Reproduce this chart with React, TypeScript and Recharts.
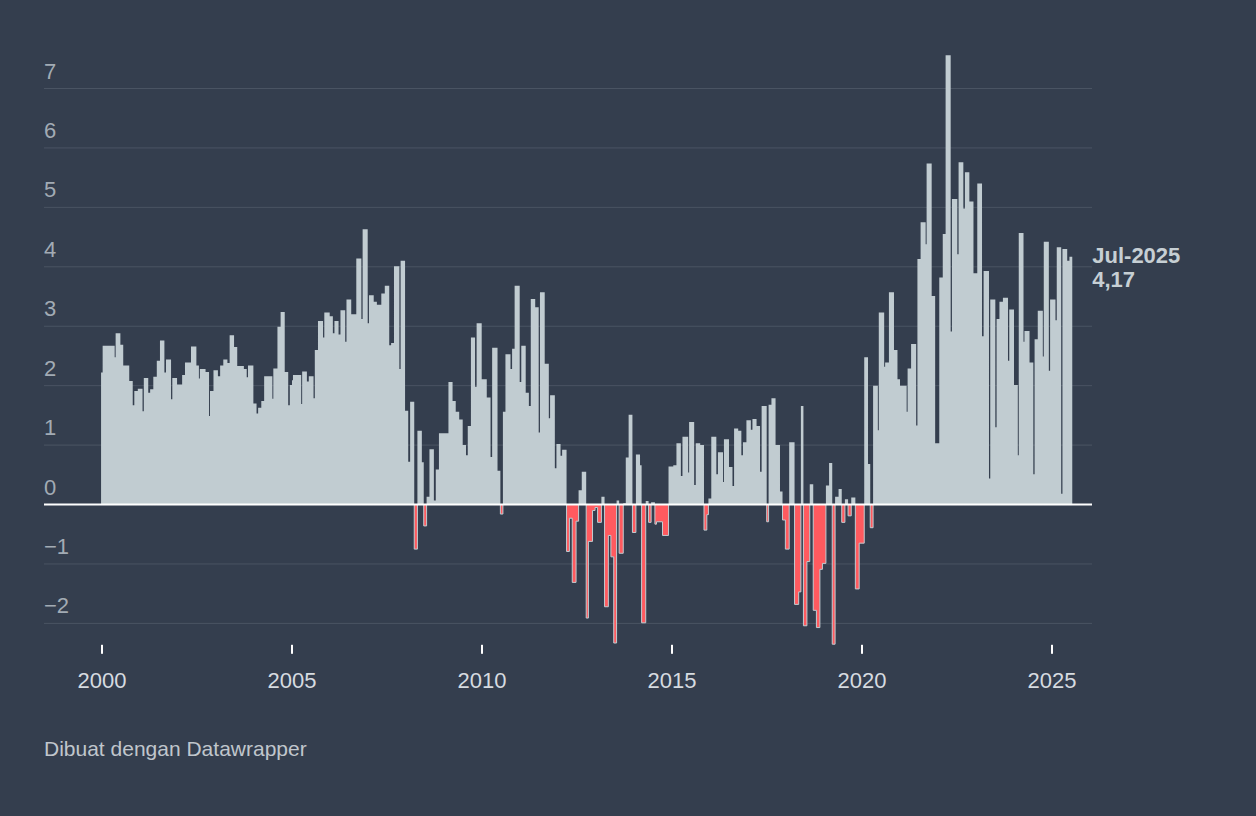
import React from "react";
import {
  AreaChart,
  Area,
  XAxis,
  YAxis,
  CartesianGrid,
  ReferenceLine,
  ReferenceDot,
} from "recharts";

// Step series: [months since Jan 2000, value]. Each value holds until the next step.
const steps2000 = [
  [-0.3, 2.22], [0.2, 2.67], [4.0, 2.48], [4.3, 2.88], [5.8, 2.69], [6.7, 2.34], [8.6, 2.08],
  [9.7, 1.67], [10.2, 1.91], [11.3, 1.95], [12.8, 1.57], [13.2, 2.13], [14.6, 1.88], [15.2, 1.94],
  [16.2, 2.15], [17.3, 2.42], [18.3, 2.76], [19.7, 2.22], [20.2, 2.44], [21.8, 1.77], [22.2, 2.13],
  [23.7, 2.02], [25.3, 2.18], [26.2, 2.39], [28.1, 2.66], [29.8, 2.34],
];
const steps2002 = [
  [30.6, 2.12], [30.9, 2.28], [32.7, 2.23], [33.8, 1.49], [34.1, 1.91], [35.2, 2.26], [36.6, 2.16],
  [37.3, 2.34], [38.3, 2.44], [39.6, 2.38], [40.3, 2.85], [41.7, 2.65], [42.7, 2.33], [44.8, 2.28],
  [45.7, 2.14], [46.1, 2.34], [47.8, 1.7], [48.8, 1.53], [49.3, 1.63], [50.3, 1.74], [51.2, 2.16],
  [53.8, 1.78], [54.1, 2.29], [55.4, 2.99], [56.4, 3.24], [57.7, 2.23], [58.8, 1.67], [59.3, 2.01],
];
const steps2005 = [
  [60.0, 2.09], [60.3, 2.18], [62.9, 1.69], [63.2, 2.24], [64.7, 2.07], [65.3, 2.16], [66.8, 1.79],
  [67.2, 2.6], [68.2, 3.09], [69.8, 2.81], [70.2, 3.23], [71.9, 3.17], [72.9, 2.88], [73.4, 3.09],
  [74.7, 2.86], [75.3, 3.27], [76.8, 2.74], [77.2, 3.45], [78.7, 3.2], [80.3, 4.14], [81.9, 3.12],
  [82.3, 4.63], [83.9, 3.05], [84.3, 3.52], [85.8, 3.41], [86.8, 3.36], [88.2, 3.55], [89.3, 3.68],
  [90.7, 2.68], [91.3, 2.72],
];
const steps2007 = [
  [92.2, 4.01], [93.9, 2.28], [94.3, 4.1], [95.7, 1.58], [96.7, 0.72], [97.3, 1.73], [98.6, -0.75],
  [99.6, 1.24], [101.0, 0.71], [101.6, -0.36], [102.5, 0.13], [103.4, 0.93], [104.8, 0.07],
  [105.4, 0.59], [106.4, 1.2], [109.4, 2.06], [110.7, 1.74], [111.7, 1.56], [112.8, 1.43],
  [113.9, 1.0], [114.95, 0.83], [115.5, 1.32], [116.5, 2.81], [117.8, 1.98], [118.3, 3.05],
  [119.9, 2.11], [121.5, 1.8],
];
const steps2010 = [
  [122.7, 0.8], [123.2, 2.64], [124.9, 0.57], [125.8, -0.16], [126.6, 1.56], [127.4, 2.53],
  [129.0, 2.28], [129.5, 2.62], [130.3, 3.68], [131.9, 2.06], [132.4, 2.67], [133.8, 1.88],
  [134.8, 1.66], [135.4, 3.46], [136.8, 3.32], [137.9, 1.21], [138.3, 3.57], [139.8, 2.37],
  [141.1, 1.45], [141.5, 1.84], [143.0, 0.61], [143.5, 1.02], [144.8, 0.82], [145.3, 0.92],
  [146.7, -0.79], [147.6, -0.23], [148.5, -1.31], [149.7, -0.28], [150.5, 0.24], [151.5, 0.55],
  [152.9, -1.91],
];
const steps2012 = [
  [153.6, -0.62], [154.9, -0.1], [155.7, -0.05], [156.5, -0.3], [157.7, 0.13], [158.7, -1.72],
  [159.9, -0.52], [160.7, -0.88], [161.6, -2.33], [162.5, 0.07], [163.3, -0.82], [164.6, 0.02],
  [165.4, 0.79], [166.3, 1.51], [167.5, -0.47], [168.6, 0.84], [169.9, 0.66], [170.4, -1.99],
  [171.7, 0.06], [172.6, -0.3], [173.4, 0.04], [174.6, -0.33], [175.1, -0.29], [177.0, -0.52],
  [178.9, 0.64], [180.4, 0.66], [181.4, 1.03], [182.8, 0.48], [183.3, 1.14],
];
const steps2015 = [
  [185.1, 0.54], [185.4, 1.39], [187.0, 0.33], [187.5, 1.03], [188.9, 1.0], [190.1, -0.43],
  [191.0, -0.17], [191.5, 0.1], [192.4, 1.14], [194.0, 0.51], [194.5, 0.88], [196.1, 0.38],
  [196.4, 1.1], [198.0, 0.63], [199.1, 0.31], [199.6, 1.28], [200.9, 1.24], [201.9, 0.83],
  [202.4, 1.05], [203.5, 1.42], [204.9, 1.26], [205.4, 1.44], [206.7, 1.32], [207.8, 0.55],
  [208.3, 1.66], [209.9, -0.29], [210.5, 1.68], [211.4, 1.79], [212.7, 1.0], [214.1, 0.22],
  [214.9, -0.26],
];
const steps2018 = [
  [215.8, -0.75], [217.0, 1.05], [218.7, -1.68], [220.0, -1.47], [220.7, 1.66], [221.5, -2.04],
  [222.6, -0.96], [223.5, 0.34], [224.6, -1.78], [225.6, -2.07], [226.7, -1.09], [227.5, -0.99],
  [228.6, 0.32], [229.6, 0.7], [230.6, -2.35], [231.5, 0.13], [232.6, 0.26], [233.6, -0.3],
  [234.6, 0.09], [235.6, -0.19], [236.6, 0.12], [237.9, -1.42], [239.1, -0.65], [240.7, 2.48],
  [241.9, 0.68], [242.6, -0.39], [243.5, 2.0], [245.0, 1.25], [245.3, 3.23],
];
const steps2020 = [
  [247.0, 2.32], [247.3, 2.39], [248.5, 3.57], [250.1, 2.6], [251.2, 2.11], [252.0, 2.0],
  [254.1, 1.56], [254.4, 2.29], [255.5, 2.7], [257.1, 1.33], [257.5, 4.13], [258.5, 4.75],
  [260.1, 4.38], [260.4, 5.74], [262.0, 3.51], [263.1, 1.03], [264.4, 3.82], [265.5, 4.55],
  [266.4, 7.56], [268.0, 2.91], [268.4, 5.14], [270.1, 4.21], [270.5, 5.76], [272.0, 4.98],
  [272.5, 5.59], [273.9, 5.1], [275.2, 3.89], [276.4, 5.4],
];
const steps2023 = [
  [277.9, 2.83], [278.4, 3.93], [280.1, 0.44], [280.5, 3.45], [282.1, 1.3], [282.5, 3.12],
  [283.4, 3.41], [284.5, 3.48], [286.1, 2.42], [286.5, 3.28], [288.0, 2.01], [289.2, 0.83],
  [289.5, 4.57], [291.0, 2.74], [291.3, 2.92], [292.9, 2.39], [294.1, 0.51], [294.5, 2.78],
  [295.5, 3.26], [297.1, 2.49], [297.4, 4.42], [299.0, 2.25], [299.4, 3.45], [301.1, 3.1],
  [301.5, 4.33], [302.9, 0.18], [303.3, 4.3], [304.8, 4.1], [305.5, 4.17], [306.4, 4.17],
];

const yTicks = [-2, -1, 0, 1, 2, 3, 4, 5, 6, 7];
const xTickMonths = [0, 60, 120, 180, 240, 300];
const lastLabel = "Jul-2025";
const lastValueText = "4,17";

const BG = "#343e4e";
const GREY = "#c1ccd1";
const RED = "#ff5a5f";
const GRID = "#4a5463";
const FONT = "'Liberation Sans', Arial, sans-serif";

const chartData = [
  ...steps2000, ...steps2002, ...steps2005, ...steps2007, ...steps2010,
  ...steps2012, ...steps2015, ...steps2018, ...steps2020, ...steps2023,
].map(([t, v]) => ({ t, pos: Math.max(v, 0), neg: Math.min(v, 0) }));

const lastPoint = chartData[chartData.length - 1];

const fmtY = (v: number) => (v < 0 ? `\u2212${Math.abs(v)}` : `${v}`);

// y labels sit above their gridline at the left edge, Datawrapper style
function GridLabel(props: any) {
  const { viewBox, text } = props;
  return (
    <text x={viewBox.x} y={viewBox.y - 10} fill="#a2abb4" fontSize={22} fontFamily={FONT} textAnchor="start">
      {text}
    </text>
  );
}

function EndLabel(props: any) {
  const { viewBox } = props;
  const cx = viewBox.x + viewBox.width / 2;
  const cy = viewBox.y + viewBox.height / 2;
  return (
    <g fontFamily={FONT} fontSize={22} fontWeight="bold" fill="#c6cfd4">
      <text x={cx + 20} y={cy + 6}>{lastLabel}</text>
      <text x={cx + 20} y={cy + 30}>{lastValueText}</text>
    </g>
  );
}

export default function App() {
  return (
    <div style={{ position: "absolute", left: 0, top: 0, width: 1256, height: 816, background: BG, fontFamily: FONT }}>
      <AreaChart
        width={1256}
        height={816}
        data={chartData}
        margin={{ top: 46.9, right: 164, left: 44, bottom: 131.2 }}
      >
        <CartesianGrid
          vertical={false}
          horizontalValues={yTicks.filter((v) => v !== 0)}
          stroke={GRID}
          strokeWidth={1}
        />
        <XAxis
          dataKey="t"
          type="number"
          domain={[-18.32, 312.63]}
          ticks={xTickMonths}
          interval={0}
          height={40}
          axisLine={false}
          tickSize={9}
          tickMargin={19}
          tickLine={{ stroke: "#ffffff", strokeWidth: 2 }}
          tick={{ fill: "#d6dbe0", fontSize: 22, fontFamily: FONT }}
          tickFormatter={(v: number) => String(2000 + v / 12)}
        />
        <YAxis type="number" domain={[-2.36, 7.7]} ticks={yTicks} width={0} hide />
        <Area
          type="stepAfter"
          dataKey="pos"
          baseValue={0}
          fill={GREY}
          fillOpacity={1}
          stroke="none"
          dot={false}
          activeDot={false}
          isAnimationActive={false}
        />
        <Area
          type="stepAfter"
          dataKey="neg"
          baseValue={0}
          fill={RED}
          fillOpacity={1}
          stroke={GREY}
          strokeWidth={1}
          dot={false}
          activeDot={false}
          isAnimationActive={false}
        />
        {yTicks.map((v) => (
          <ReferenceLine
            key={v}
            y={v}
            stroke={v === 0 ? "#ffffff" : "none"}
            strokeWidth={2}
            label={<GridLabel text={fmtY(v)} />}
          />
        ))}
        <ReferenceDot
          x={lastPoint.t}
          y={lastPoint.pos}
          r={1}
          fill="none"
          stroke="none"
          label={<EndLabel />}
        />
      </AreaChart>
      <div
        style={{
          position: "absolute",
          left: 44,
          top: 738,
          fontSize: 21,
          lineHeight: "21px",
          color: "#c0c6cc",
        }}
      >
        Dibuat dengan Datawrapper
      </div>
    </div>
  );
}
